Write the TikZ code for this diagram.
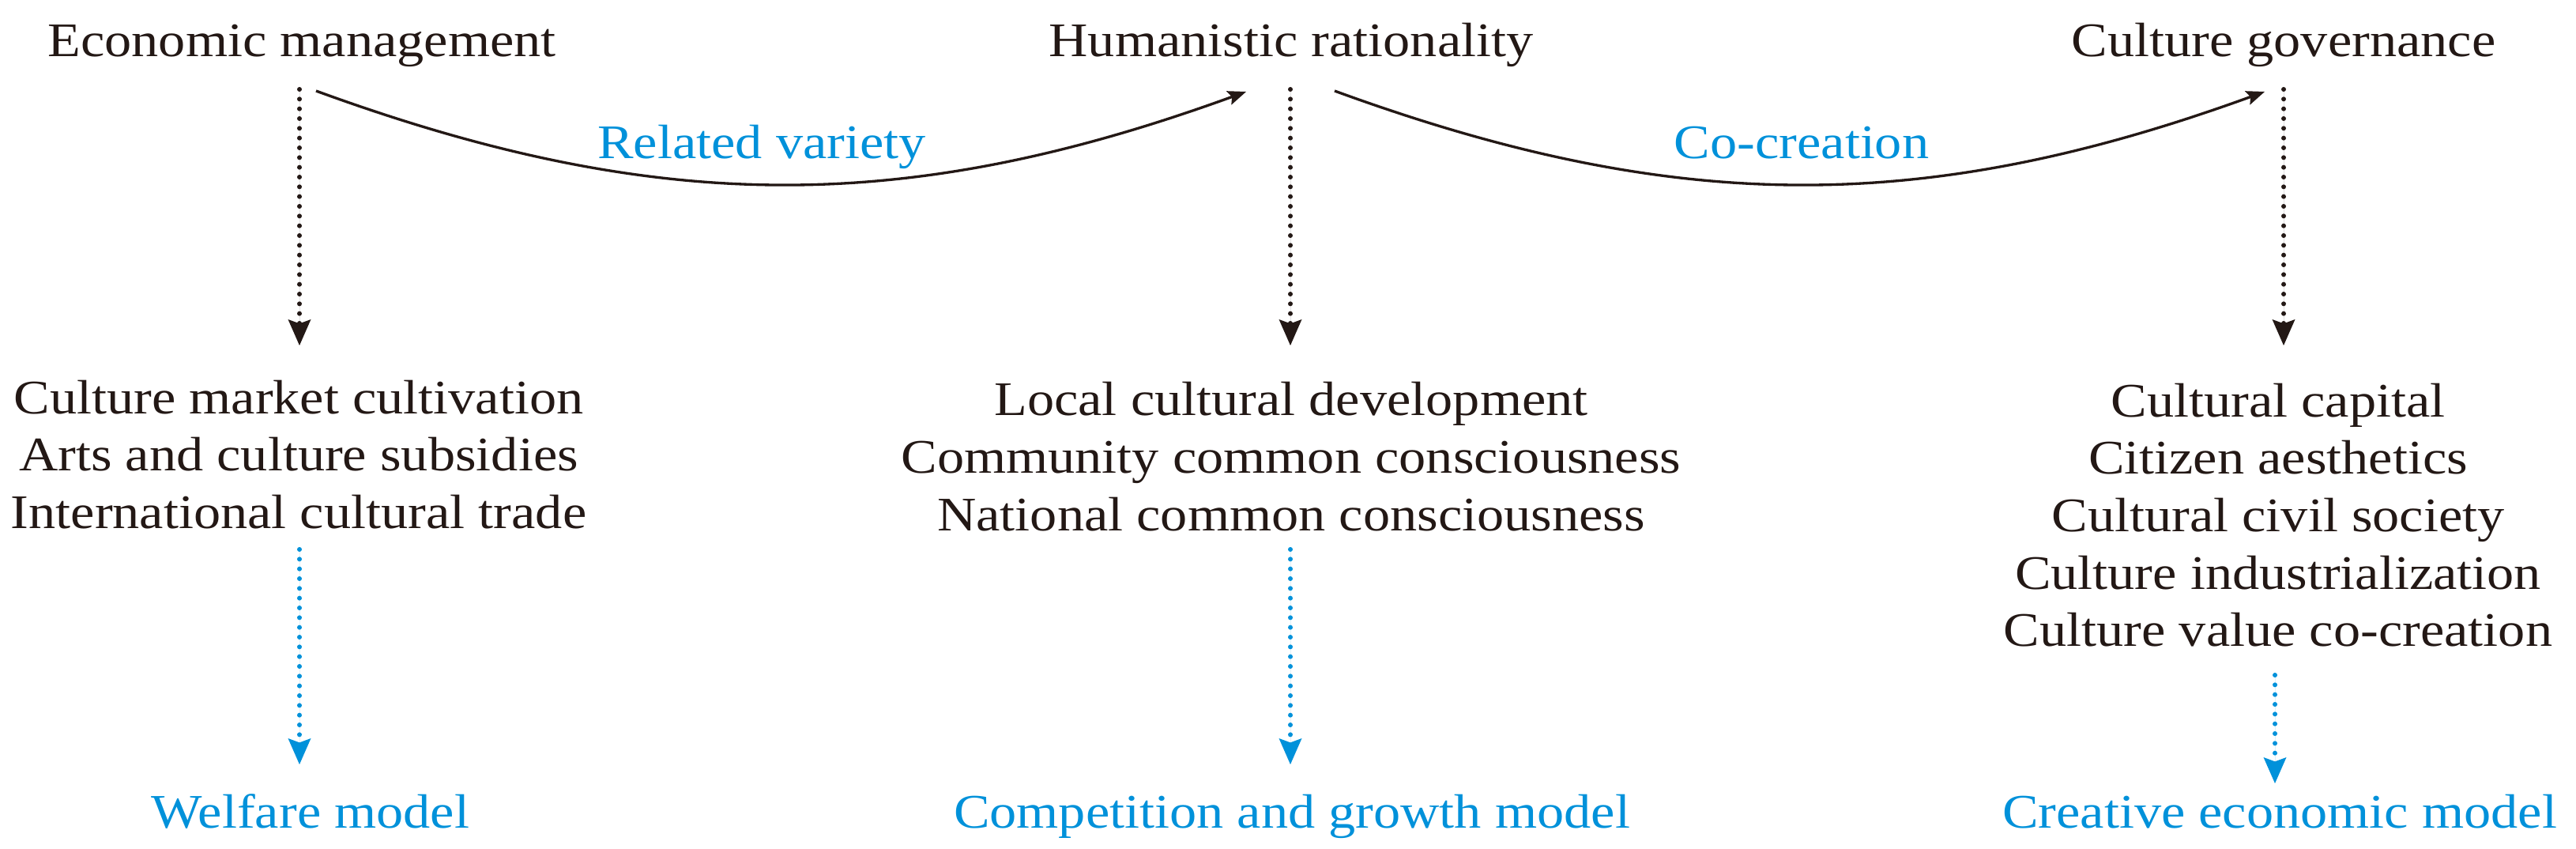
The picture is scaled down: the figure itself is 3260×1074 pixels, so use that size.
\documentclass[tikz,border=0pt]{standalone}
\usepackage{fontspec}
\setmainfont{Liberation Serif}[FakeStretch=1.12]
\usetikzlibrary{arrows.meta}
\definecolor{txtblack}{HTML}{231815}
\definecolor{modelblue}{RGB}{0,145,218}
\begin{document}
\begin{tikzpicture}[x=0.3pt,y=-0.3pt,
  lbl/.style={anchor=base, inner sep=0pt, text=txtblack, font=\fontsize{18.3pt}{22pt}\selectfont},
  blbl/.style={lbl, text=modelblue},
  dotarrow/.style={line width=1.8pt, dash pattern=on 0pt off 3.7pt, line cap=round,
    -{Stealth[length=9.9pt,width=8.7pt,inset=1.6pt,line width=0pt]}},
  curvearrow/.style={line width=1pt, draw=txtblack,
    -{Stealth[length=7pt,width=5.6pt,inset=1.3pt,line width=0pt]}}]
\useasboundingbox (0,0) rectangle (3260,1074);

% top concepts
\node[lbl] (em) at (382,71) {Economic management};
\node[lbl] (hr) at (1634,71) {Humanistic rationality};
\node[lbl] (cg) at (2890,71) {Culture governance};

% curved transitions
\coordinate (c1s) at (400,115);
\coordinate (c1e) at (1577,116);
\coordinate (c2s) at (1689,115);
\coordinate (c2e) at (2866,116);
\draw[curvearrow] (c1s) to[bend right=20] (c1e);
\draw[curvearrow] (c2s) to[bend right=20] (c2e);
\node[blbl] (rv) at (964,200) {Related variety};
\node[blbl] (cc) at (2280,200) {Co-creation};

% black dotted arrows
\coordinate (a1s) at (379,113);  \coordinate (a1e) at (379,437);
\coordinate (a2s) at (1633,113); \coordinate (a2e) at (1633,437);
\coordinate (a3s) at (2890,113); \coordinate (a3e) at (2890,437);
\draw[dotarrow, draw=txtblack, fill=txtblack] (a1s) -- (a1e);
\draw[dotarrow, draw=txtblack, fill=txtblack] (a2s) -- (a2e);
\draw[dotarrow, draw=txtblack, fill=txtblack] (a3s) -- (a3e);

% lists
\node[lbl] (l11) at (378,523) {Culture market cultivation};
\node[lbl] (l12) at (378,595) {Arts and culture subsidies};
\node[lbl] (l13) at (378,668) {International cultural trade};

\node[lbl] (l21) at (1634,525) {Local cultural development};
\node[lbl] (l22) at (1634,598) {Community common consciousness};
\node[lbl] (l23) at (1634,671) {National common consciousness};

\node[lbl] (l31) at (2883,527) {Cultural capital};
\node[lbl] (l32) at (2883,599) {Citizen aesthetics};
\node[lbl] (l33) at (2883,672) {Cultural civil society};
\node[lbl] (l34) at (2883,745) {Culture industrialization};
\node[lbl] (l35) at (2883,817) {Culture value co-creation};

% blue dotted arrows
\coordinate (b1s) at (379,695);  \coordinate (b1e) at (379,967);
\coordinate (b2s) at (1633,695); \coordinate (b2e) at (1633,967);
\coordinate (b3s) at (2879,854); \coordinate (b3e) at (2879,991);
\draw[dotarrow, draw=modelblue, fill=modelblue] (b1s) -- (b1e);
\draw[dotarrow, draw=modelblue, fill=modelblue] (b2s) -- (b2e);
\draw[dotarrow, draw=modelblue, fill=modelblue] (b3s) -- (b3e);

% models
\node[blbl] (m1) at (393,1047) {Welfare model};
\node[blbl] (m2) at (1635,1047) {Competition and growth model};
\node[blbl] (m3) at (2885,1047) {Creative economic model};
\end{tikzpicture}
\end{document}
